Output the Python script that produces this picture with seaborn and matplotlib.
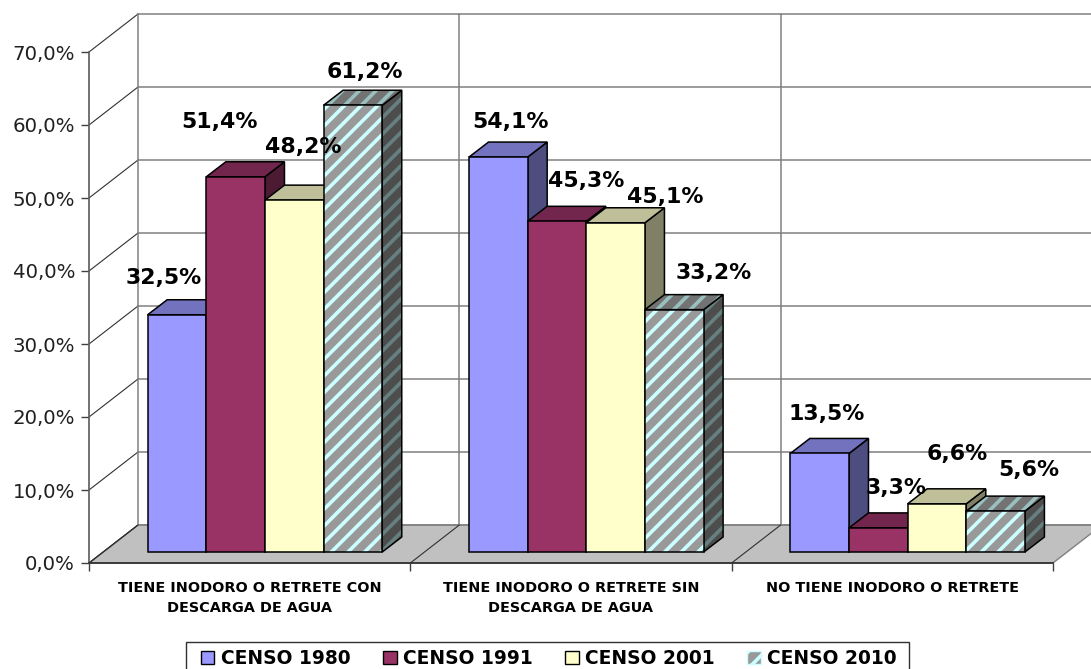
"""censo: tipo de servicio sanitario, barras con aspecto 3D"""
import matplotlib
matplotlib.use('Agg')
import matplotlib.pyplot as plt
from matplotlib.patches import Patch, Polygon, Rectangle
from matplotlib.transforms import Affine2D
import pandas as pd
import seaborn as sns

categorias = ['TIENE INODORO O RETRETE CON\nDESCARGA DE AGUA',
              'TIENE INODORO O RETRETE SIN\nDESCARGA DE AGUA',
              'NO TIENE INODORO O RETRETE']
censos = ['CENSO 1980', 'CENSO 1991', 'CENSO 2001', 'CENSO 2010']
censo_1980 = [32.5, 54.1, 13.5]
censo_1991 = [51.4, 45.3, 3.3]
censo_2001 = [48.2, 45.1, 6.6]
censo_2010 = [61.2, 33.2, 5.6]
y_ticks = [0, 10, 20, 30, 40, 50, 60, 70]
y_labels = ['0,0%', '10,0%', '20,0%', '30,0%', '40,0%', '50,0%', '60,0%', '70,0%']

# front, top, side colours per series
frente = ['#9999FF', '#993366', '#FFFFCC', '#999999']
arriba = ['#7272BF', '#73264D', '#BFBF99', '#737373']
lado = ['#4D4D80', '#4D1A33', '#808066', '#4D4D4D']
rayas = ['#CCFFFF', '#99BFBF', '#668080']  # stripes of the 2010 faces

# hand placed labels in the original, pixels from the top centre of the bar
nudge = [[(-13, 37), (12, 35), (7, 39)],
         [(-16, 55), (29, 40), (18, 40)],
         [(9, 53), (50, 26), (20, 50)],
         [(12, 33), (39, 37), (33, 41)]]

W, H = 1091, 669
sns.set_theme(style='white')
plt.rcParams['font.family'] = 'DejaVu Sans'
plt.rcParams['hatch.linewidth'] = 2.6

fig = plt.figure(figsize=(W / 100, H / 100), dpi=100)
ax = fig.add_axes([89 / W, (H - 563) / H, 964 / W, 511 / H])

df = pd.DataFrame({
    'categoria': categorias * 4,
    'censo': [c for c in censos for _ in categorias],
    'valor': censo_1980 + censo_1991 + censo_2001 + censo_2010,
})
sns.barplot(data=df, x='categoria', y='valor', hue='censo', hue_order=censos,
            palette=frente, width=0.73, gap=0, saturation=1, errorbar=None,
            edgecolor='black', linewidth=1.1, legend=False, ax=ax)
ax.set_xlim(-0.5, 2.5)
ax.set_ylim(0, 70)

sx = 964 / 3       # px per category
sy = 511 / 70      # px per point
wall_x, wall_y = 49 / sx, 38 / sy
bar_dx, bar_dy = 19.5 / sx, 15 / sy
shift = Affine2D().translate(15.3 / sx, 11 / sy) + ax.transData

# floor and walls
ax.add_patch(Polygon([(-0.5, 0), (2.5, 0), (2.5 + wall_x, wall_y), (-0.5 + wall_x, wall_y)],
                     facecolor='#C0C0C0', edgecolor='#808080', lw=1, zorder=1, clip_on=False))
for t in y_ticks:
    ax.plot([-0.5 + wall_x, 2.5 + wall_x], [t + wall_y, t + wall_y], color='#808080', lw=1.1,
            zorder=1.5, clip_on=False)
    ax.plot([-0.5, -0.5 + wall_x], [t, t + wall_y], color='#303030', lw=0.8, zorder=1.5, clip_on=False)
for b in [-0.5, 0.5, 1.5]:
    ax.plot([b + wall_x, b + wall_x], [wall_y, 70 + wall_y], color='#808080', lw=1.1,
            zorder=1.5, clip_on=False)
    ax.plot([b, b + wall_x], [0, wall_y], color='#303030', lw=0.8, zorder=1.5, clip_on=False)

# boxes, left to right so the next bar covers the side of the previous one
for i, cont in enumerate(ax.containers):
    z = 3 + i
    for j, bar in enumerate(cont):
        x0, x1 = bar.get_x(), bar.get_x() + bar.get_width()
        h = bar.get_height()
        top = Polygon([(x0, h), (x1, h), (x1 + bar_dx, h + bar_dy), (x0 + bar_dx, h + bar_dy)],
                      transform=shift, zorder=z + 0.1, clip_on=False)
        side = Polygon([(x1, 0), (x1 + bar_dx, bar_dy), (x1 + bar_dx, h + bar_dy), (x1, h)],
                       transform=shift, zorder=z, clip_on=False)
        bar.set_transform(shift)
        bar.set_zorder(z + 0.2)
        bar.set_clip_on(False)
        faces = [(top, arriba[i], 1), (side, lado[i], 2)]
        for face, col, k in faces:
            face.set_facecolor(col)
            if i == 3:
                face.set_edgecolor(rayas[k])
                face.set_hatch('//')
                face.set_linewidth(0)
                ax.add_patch(Polygon(face.get_xy(), fill=False, edgecolor='black', lw=1.1,
                                     transform=shift, zorder=face.get_zorder() + 0.01, clip_on=False))
            else:
                face.set_edgecolor('black')
                face.set_linewidth(1.1)
            ax.add_patch(face)
        if i == 3:
            bar.set_edgecolor(rayas[0])
            bar.set_hatch('//')
            bar.set_linewidth(0)
            ax.add_patch(Rectangle((x0, 0), x1 - x0, h, fill=False, edgecolor='black', lw=1.1,
                                   transform=shift, zorder=z + 0.3, clip_on=False))
        tx, ty = shift.transform((bar.get_x() + bar.get_width() / 2, h))
        ax.annotate(f'{h:.1f}%'.replace('.', ','), xy=(tx, ty), xycoords='figure pixels',
                    xytext=nudge[i][j], textcoords='offset pixels', ha='center', va='center',
                    fontsize=15.8, fontweight='bold', color='black', zorder=10)

# axes
ax.set_xlabel('')
ax.set_ylabel('')
ax.set_yticks(y_ticks, labels=y_labels, fontsize=14.2, color='#202020')
ax.set_xticks([-0.5, 0.5, 1.5, 2.5], labels=[])
ax.set_xticks([0, 1, 2], labels=categorias, minor=True, fontsize=10.4, fontweight='bold',
              linespacing=1.5, color='black')
ax.tick_params(axis='both', which='major', length=6, width=1, color='#404040', left=True, bottom=True)
ax.tick_params(axis='y', pad=4)
ax.tick_params(axis='x', which='minor', length=0, pad=13)
sns.despine(ax=ax, top=True, right=True)
ax.spines['left'].set_color('#606060')
ax.spines['left'].set_zorder(2)
ax.spines['bottom'].set_color('#303030')
ax.spines['bottom'].set_zorder(2)
ax.patch.set_alpha(0)

# legend
handles = [Patch(facecolor=frente[0], edgecolor='black', label=censos[0]),
           Patch(facecolor=frente[1], edgecolor='black', label=censos[1]),
           Patch(facecolor=frente[2], edgecolor='black', label=censos[2]),
           Patch(facecolor=frente[3], edgecolor=rayas[0], hatch='//', label=censos[3])]
fig.legend(handles=handles, ncol=4, frameon=False, loc='upper left',
           bbox_to_anchor=(201 / W, (H - 649) / H), borderpad=0, borderaxespad=0,
           prop={'size': 13.4, 'weight': 'bold'}, labelcolor='black',
           handlelength=0.72, handleheight=0.72, handletextpad=0.35, columnspacing=1.75)
fig.add_artist(Rectangle((185.5 / W, -0.02), 723 / W, (H - 642) / H + 0.02, fill=False,
                         edgecolor='#303030', lw=1, transform=fig.transFigure))

fig.savefig('out.png', dpi=100, facecolor='white')
